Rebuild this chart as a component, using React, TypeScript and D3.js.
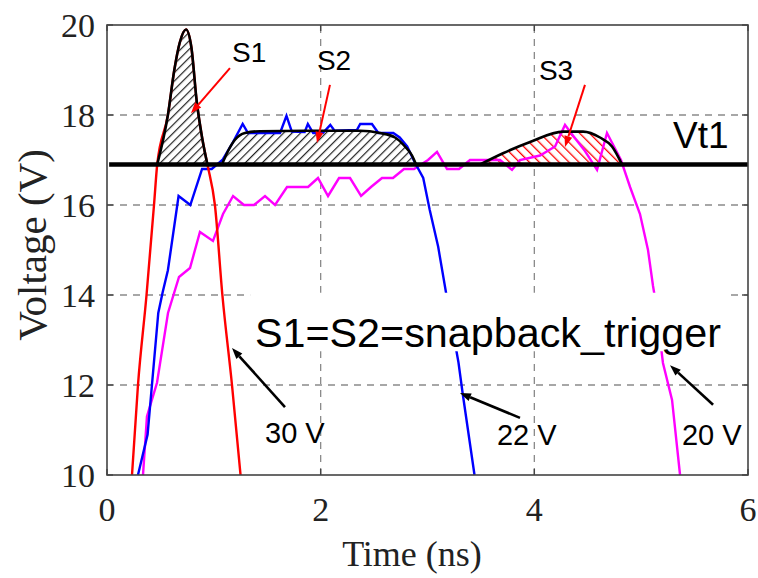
import React from "react";
import * as d3 from "d3";

const VT1 = 16.9;
const xTicks = [0, 2, 4, 6];
const yTicks = [10, 12, 14, 16, 18, 20];

const redT = [0.234, 0.29, 0.37, 0.44, 0.47, 0.57, 0.63, 0.68, 0.74, 0.79, 0.84, 0.89, 0.94, 1.01, 1.08, 1.17, 1.25];
const redV = [10, 12, 14, 16, 16.9, 18, 19.0, 19.6, 19.9, 19.5, 18.3, 17.5, 16.9, 16, 14, 12, 10];

const blueT = [0.29, 0.38, 0.48, 0.52, 0.57, 0.67, 0.78, 0.89, 0.98, 1.08, 1.18, 1.27, 1.32, 1.62, 1.68, 1.73, 1.85, 1.88, 1.93, 2.02, 2.09, 2.13, 2.34, 2.37, 2.48, 2.54, 2.68, 2.74, 2.81, 2.88, 2.96, 3.02, 3.10, 3.18, 3.29, 3.33, 3.44];
const blueV = [10, 10.9, 13.6, 14.05, 14.55, 16.2, 16.0, 16.8, 16.8, 17.0, 17.4, 17.8, 17.6, 17.6, 17.98, 17.63, 17.62, 17.8, 17.6, 17.6, 17.78, 17.65, 17.67, 17.8, 17.8, 17.6, 17.6, 17.5, 17.3, 16.95, 16.6, 15.9, 15.07, 13.96, 12.5, 11.8, 10];

const magT = [0.337, 0.374, 0.468, 0.571, 0.674, 0.777, 0.870, 0.992, 1.086, 1.180, 1.282, 1.376, 1.479, 1.573, 1.685, 1.882, 1.975, 2.069, 2.172, 2.275, 2.378, 2.471, 2.574, 2.677, 2.780, 2.874, 3.005, 3.089, 3.183, 3.295, 3.398, 3.492, 3.679, 3.791, 3.866, 4.053, 4.194, 4.287, 4.343, 4.474, 4.587, 4.680, 4.811, 4.896, 4.989, 5.064, 5.111, 5.130, 5.204, 5.289, 5.364];
const magV = [10, 11.3, 12.05, 13.6, 14.4, 14.6, 15.4, 15.2, 15.8, 16.2, 16.0, 16.0, 16.2, 16.0, 16.4, 16.4, 16.6, 16.2, 16.6, 16.6, 16.2, 16.4, 16.6, 16.6, 16.8, 16.8, 17.0, 17.18, 16.8, 16.8, 17.0, 17.0, 17.0, 16.78, 17.0, 17.1, 17.3, 17.78, 17.6, 17.2, 16.78, 17.6, 17.0, 16.4, 15.8, 15.0, 14.2, 13.93, 12.49, 11.67, 10];

const s2T = [1.076, 1.133, 1.198, 1.292, 1.432, 1.994, 2.368, 2.555, 2.696, 2.789, 2.855, 2.893];
const s2V = [16.9, 17.2, 17.45, 17.6, 17.64, 17.65, 17.65, 17.6, 17.5, 17.3, 17.1, 16.9];

const s3T = [3.492, 3.707, 3.960, 4.269, 4.456, 4.615, 4.727, 4.821];
const s3V = [16.9, 17.15, 17.4, 17.63, 17.63, 17.5, 17.3, 16.9];

const W = 758, H = 578;
const x = d3.scaleLinear().domain([0, 6]).range([107, 748]);
const y = d3.scaleLinear().domain([10, 20]).range([475, 25]);

type P = [number, number];
const zip = (a: number[], b: number[]): P[] => a.map((t, i) => [t, b[i]]);
const red = zip(redT, redV);
const blue = zip(blueT, blueV);
const mag = zip(magT, magV);
const s1 = red.filter((p) => p[1] >= VT1);
const s2 = zip(s2T, s2V);
const s3 = zip(s3T, s3V);

const lineLin = d3.line<P>().x((d) => x(d[0])).y((d) => y(d[1]));
const lineSmooth = d3.line<P>().x((d) => x(d[0])).y((d) => y(d[1])).curve(d3.curveMonotoneX);
const areaSmooth = d3.area<P>().x((d) => x(d[0])).y0(y(VT1)).y1((d) => y(d[1])).curve(d3.curveMonotoneX);

const SANS = "'Liberation Sans', Arial, sans-serif";
const SERIF = "'Liberation Serif', 'Times New Roman', serif";

function Arrow({ from, to, color, w }: { from: P; to: P; color: string; w: number }) {
  const x1 = x(from[0]), y1 = y(from[1]), x2 = x(to[0]), y2 = y(to[1]);
  const ang = Math.atan2(y2 - y1, x2 - x1);
  const L = 11, hw = 4;
  const bx = x2 - L * Math.cos(ang), by = y2 - L * Math.sin(ang);
  const p1: P = [bx + hw * Math.sin(ang), by - hw * Math.cos(ang)];
  const p2: P = [bx - hw * Math.sin(ang), by + hw * Math.cos(ang)];
  return (
    <g>
      <line x1={x1} y1={y1} x2={bx} y2={by} stroke={color} strokeWidth={w} />
      <polygon points={`${x2},${y2} ${p1[0]},${p1[1]} ${p2[0]},${p2[1]}`} fill={color} />
    </g>
  );
}

export default function App() {
  const gridX = [2, 4];
  const gridY = [12, 14, 16, 18];
  return (
    <svg width={W} height={H} style={{ position: "absolute", left: 0, top: 0, background: "#fff" }}>
      <defs>
        <pattern id="hatchBlack" width="6" height="6" patternUnits="userSpaceOnUse" patternTransform="rotate(45)">
          <rect width="6" height="6" fill="#fff" />
          <line x1="0" y1="0" x2="0" y2="6" stroke="#222" strokeWidth="2.4" />
        </pattern>
        <pattern id="hatchRed" width="7" height="7" patternUnits="userSpaceOnUse" patternTransform="rotate(-45)">
          <rect width="7" height="7" fill="#fff" />
          <line x1="0" y1="0" x2="0" y2="7" stroke="#ff0000" strokeWidth="2.6" />
        </pattern>
      </defs>
      <rect x={0} y={0} width={W} height={H} fill="#fff" />
      {gridX.map((t) => (
        <line key={"gx" + t} x1={x(t)} x2={x(t)} y1={y(10)} y2={y(20)} stroke="#8a8a8a" strokeWidth={1.3} strokeDasharray="7,6" />
      ))}
      {gridY.map((v) => (
        <line key={"gy" + v} x1={x(0)} x2={x(6)} y1={y(v)} y2={y(v)} stroke="#8a8a8a" strokeWidth={1.3} strokeDasharray="7,6" />
      ))}
      <path d={areaSmooth(s1) || ""} fill="url(#hatchBlack)" />
      <path d={areaSmooth(s2) || ""} fill="url(#hatchBlack)" />
      <path d={areaSmooth(s3) || ""} fill="url(#hatchRed)" />
      <path d={lineLin(mag) || ""} fill="none" stroke="#ff00ff" strokeWidth={2.4} />
      <path d={lineLin(blue) || ""} fill="none" stroke="#0000ff" strokeWidth={2.4} />
      <path d={lineSmooth(red) || ""} fill="none" stroke="#ff0000" strokeWidth={2.4} />
      <path d={lineSmooth(s1) || ""} fill="none" stroke="#000" strokeWidth={2.6} />
      <path d={lineSmooth(s2) || ""} fill="none" stroke="#000" strokeWidth={2.6} />
      <path d={lineSmooth(s3) || ""} fill="none" stroke="#000" strokeWidth={2.6} />
      <line x1={x(0.02)} x2={x(6)} y1={y(VT1)} y2={y(VT1)} stroke="#000" strokeWidth={4.5} />
      <rect x={x(1.34)} y={y(14.05)} width={x(5.8) - x(1.34)} height={y(12.75) - y(14.05)} fill="#fff" />
      <rect x={x(0)} y={y(20)} width={x(6) - x(0)} height={y(10) - y(20)} fill="none" stroke="#444" strokeWidth={1.6} />
      {xTicks.map((t) => (
        <g key={"xt" + t}>
          <line x1={x(t)} x2={x(t)} y1={y(10)} y2={y(10) - 6} stroke="#444" strokeWidth={1.4} />
          <line x1={x(t)} x2={x(t)} y1={y(20)} y2={y(20) + 6} stroke="#444" strokeWidth={1.4} />
          <text x={x(t)} y={521} textAnchor="middle" fontFamily={SERIF} fontSize={34} fill="#222">{t}</text>
        </g>
      ))}
      {yTicks.map((v) => (
        <g key={"yt" + v}>
          <line x1={x(0)} x2={x(0) + 6} y1={y(v)} y2={y(v)} stroke="#444" strokeWidth={1.4} />
          <line x1={x(6)} x2={x(6) - 6} y1={y(v)} y2={y(v)} stroke="#444" strokeWidth={1.4} />
          <text x={95} y={y(v)} dy="0.35em" textAnchor="end" fontFamily={SERIF} fontSize={34} fill="#222">{v}</text>
        </g>
      ))}
      <text x={412} y={566} textAnchor="middle" fontFamily={SERIF} fontSize={36} fill="#222">Time (ns)</text>
      <text transform={`translate(46,${245}) rotate(-90)`} textAnchor="middle" fontFamily={SERIF} fontSize={41} fill="#222">Voltage (V)</text>
      <text x={x(1.17)} y={y(19.18)} fontFamily={SANS} fontSize={28} fill="#000">S1</text>
      <text x={x(1.965)} y={y(19.0)} fontFamily={SANS} fontSize={28} fill="#000">S2</text>
      <text x={x(4.043)} y={y(18.78)} fontFamily={SANS} fontSize={28} fill="#000">S3</text>
      <text x={x(5.298)} y={y(17.27)} fontFamily={SANS} fontSize={37} fill="#000">Vt1</text>
      <text x={x(1.385)} y={y(12.84)} fontFamily={SANS} fontSize={40} textLength={466} lengthAdjust="spacingAndGlyphs" fill="#000">S1=S2=snapback_trigger</text>
      <text x={x(1.479)} y={y(10.71)} fontFamily={SANS} fontSize={29} fill="#000">30 V</text>
      <text x={x(3.65)} y={y(10.67)} fontFamily={SANS} fontSize={29} fill="#000">22 V</text>
      <text x={x(5.382)} y={y(10.67)} fontFamily={SANS} fontSize={29} fill="#000">20 V</text>
      <Arrow from={[1.151, 19.04]} to={[0.786, 18.04]} color="#ff0000" w={2} />
      <Arrow from={[2.087, 18.67]} to={[1.966, 17.38]} color="#ff0000" w={2} />
      <Arrow from={[4.474, 18.67]} to={[4.287, 17.29]} color="#ff0000" w={2} />
      <Arrow from={[1.666, 11.51]} to={[1.17, 12.82]} color="#000" w={2.6} />
      <Arrow from={[3.866, 11.27]} to={[3.304, 11.82]} color="#000" w={2.6} />
      <Arrow from={[5.673, 11.56]} to={[5.27, 12.44]} color="#000" w={2.6} />
    </svg>
  );
}
